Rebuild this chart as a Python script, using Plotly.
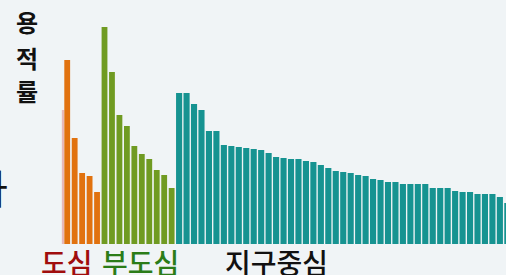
import plotly.graph_objects as go

# Estimated floor-area-ratio heights (relative units)
dosim = [184, 106, 71, 68, 52]
budosim = [217, 172, 129, 118, 98, 90, 85, 74, 69, 56]
jigu = [151, 151, 140, 134, 113, 113, 99, 98, 97, 96, 95, 94, 91, 87, 86, 85, 85,
        83, 82, 79, 76, 73, 72, 71, 69, 68, 65, 64, 62, 62, 60, 60, 60, 60, 56, 56,
        56, 53, 52, 52, 50, 50, 50, 47, 41]
ghost = [134]

group_labels = ["도심", "부도심", "지구중심"]
y_title = ["용", "적", "률"]
cut_char = "하"

W, H = 506, 275

x_d = list(range(len(dosim)))
x_b = list(range(len(dosim), len(dosim) + len(budosim)))
x_j = list(range(len(dosim) + len(budosim), len(dosim) + len(budosim) + len(jigu)))

fig = go.Figure()
fig.add_trace(go.Bar(x=[0], y=ghost, offset=-0.72, width=0.3,
                     marker=dict(color="#e6b9bb", line=dict(width=0))))
fig.add_trace(go.Bar(x=x_d, y=dosim, width=0.78,
                     marker=dict(color="#e1720f", line=dict(width=0))))
fig.add_trace(go.Bar(x=x_b, y=budosim, width=0.78,
                     marker=dict(color="#709b22", line=dict(width=0))))
fig.add_trace(go.Bar(x=x_j, y=jigu, width=0.82,
                     marker=dict(color="#169391", line=dict(width=0))))

def px(x, y):
    return x / W, 1 - y / H

font = "Noto Sans CJK KR"
ann = []
for txt, cx, col in zip(group_labels, [67, 140.5, 276], ["#a00d0d", "#2b7c18", "#111111"]):
    ax, ay = px(cx, 262)
    ann.append(dict(text=txt, x=ax, y=ay, xref="paper", yref="paper", showarrow=False,
                    xanchor="center", yanchor="middle", borderpad=0,
                    font=dict(family=font, size=28, color=col, weight=500)))
for ch, cy in zip(y_title, [21, 57, 90]):
    ax, ay = px(27, cy)
    ann.append(dict(text=ch, x=ax, y=ay, xref="paper", yref="paper", showarrow=False,
                    xanchor="center", yanchor="middle",
                    font=dict(family=font, size=24, color="#111111", weight=700)))
ax, ay = px(9.5, 187)
ann.append(dict(text=cut_char, x=ax, y=ay, xref="paper", yref="paper", showarrow=False,
                xanchor="right", yanchor="middle",
                font=dict(family=font, size=40, color="#111111")))

fig.update_layout(
    width=W, height=H,
    margin=dict(l=0, r=0, t=0, b=0),
    paper_bgcolor="#f0f4f6", plot_bgcolor="#f0f4f6",
    showlegend=False, barmode="overlay",
    xaxis=dict(range=[-9.01, 58.82], visible=False, fixedrange=True),
    yaxis=dict(range=[-31, 244], visible=False, fixedrange=True),
    annotations=ann,
)

fig.write_html("out.html", config={"displayModeBar": False},
               post_script="document.body.style.margin='0';document.body.style.overflow='hidden';")
